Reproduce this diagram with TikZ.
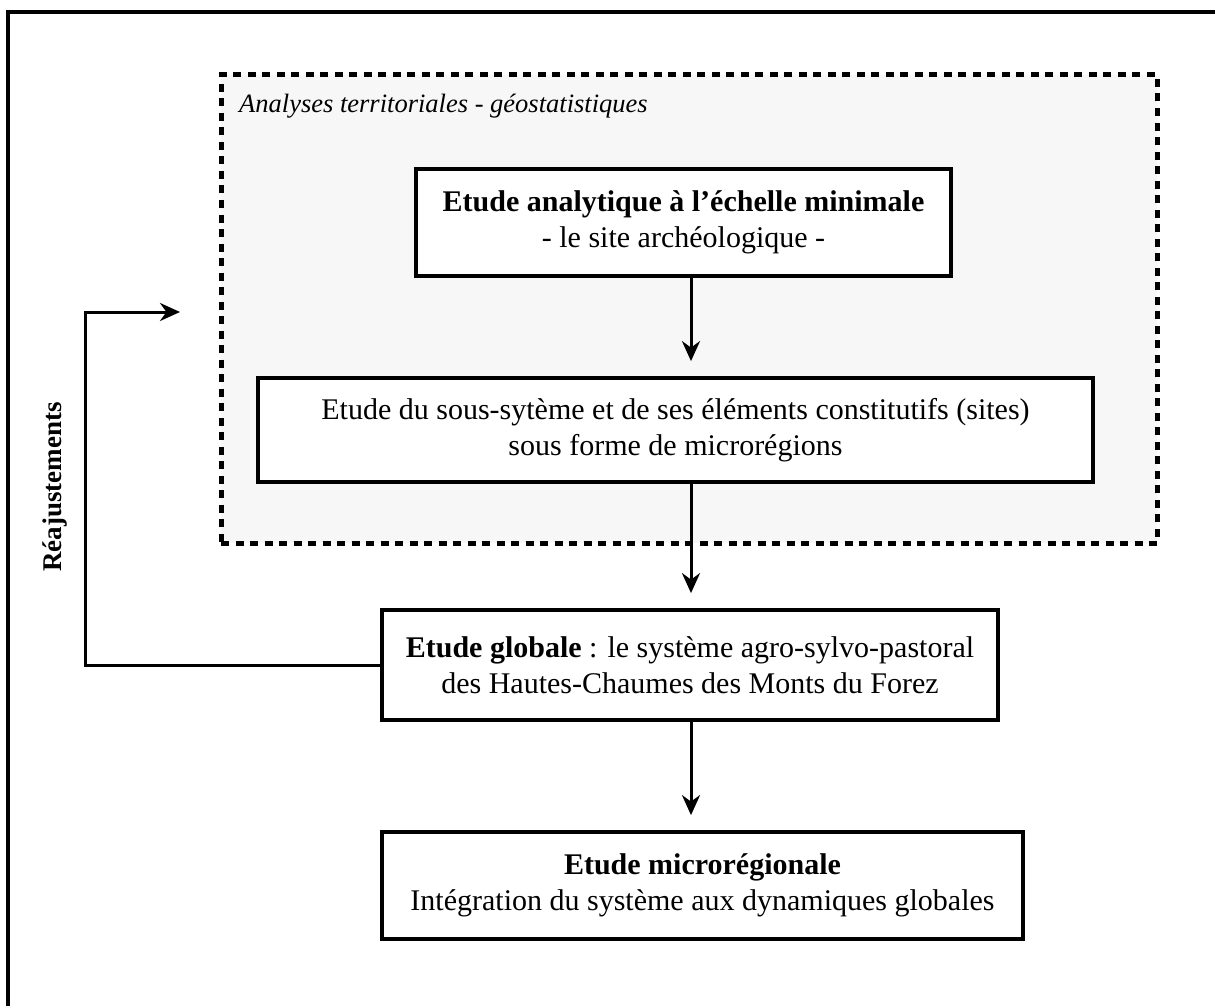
\documentclass[tikz,border=0pt]{standalone}
\usepackage{fontspec}
\setmainfont{Liberation Serif}
\usetikzlibrary{arrows.meta}

\definecolor{zonefill}{HTML}{F7F7F7}

\tikzset{
	etude/.style={draw, line width=3.8pt, fill=white, align=center, inner sep=0pt,
		font=\fontsize{30}{36}\selectfont},
	fleche/.style={line width=3pt, -{Stealth[length=20pt,width=18pt]}, shorten >=15pt},
}

\begin{document}
\begin{tikzpicture}[x=1pt, y=-1pt, line cap=butt]

			% constants
			\pgfmathsetmacro{\xaxe}{691};
			\pgfmathsetmacro{\xretour}{85};
			\pgfmathsetmacro{\yretour}{312};

			\useasboundingbox (0,0) rectangle (1215,1006);

			% frame
			\draw[line width=3.5pt] (8,1010) -- (8,12) -- (1220,12);

			% zone
			\node[draw, line width=5pt, dash pattern=on 8pt off 6.5pt, fill=zonefill,
				minimum width=936pt, minimum height=468pt, inner sep=0pt] (zone)
				at (689,309) {};
			\node[anchor=base west, inner sep=0pt, font=\fontsize{26.5}{32}\selectfont\itshape] (zonelabel)
				at (239,113) {Analyses territoriales - géostatistiques};

			% boxes
			\node[etude, minimum width=535pt, minimum height=107pt] (site)
				at (683.5,222.5) {\textbf{Etude analytique à l’échelle minimale}\\- le site archéologique -};
			\node[etude, minimum width=835pt, minimum height=104pt] (soussys)
				at (675.5,430) {Etude du sous-sytème et de ses éléments constitutifs (sites)\\sous forme de microrégions};
			\node[etude, minimum width=616pt, minimum height=110pt] (glob)
				at (690,665) {\textbf{Etude globale} : le système agro-sylvo-pastoral\\des Hautes-Chaumes des Monts du Forez};
			\node[etude, minimum width=641pt, minimum height=107pt] (micro)
				at (702.5,885.5) {\textbf{Etude microrégionale}\\Intégration du système aux dynamiques globales};

			% arrows
			\coordinate (axe) at (\xaxe,0);
			\draw[fleche] (site.south -| axe) -- (soussys.north -| axe);
			\draw[fleche] (soussys.south -| axe) -- (glob.north -| axe);
			\draw[fleche] (glob.south -| axe) -- (micro.north -| axe);

			% feedback
			\coordinate (coin) at (\xretour,\yretour);
			\coordinate (retour) at (195,\yretour);
			\draw[fleche] (glob.west) -| (coin) -- (retour);
			\node[rotate=90, font=\fontsize{27}{32}\selectfont\bfseries] (reaj)
				at (55,487) {Réajustements};

		\end{tikzpicture}
\end{document}
